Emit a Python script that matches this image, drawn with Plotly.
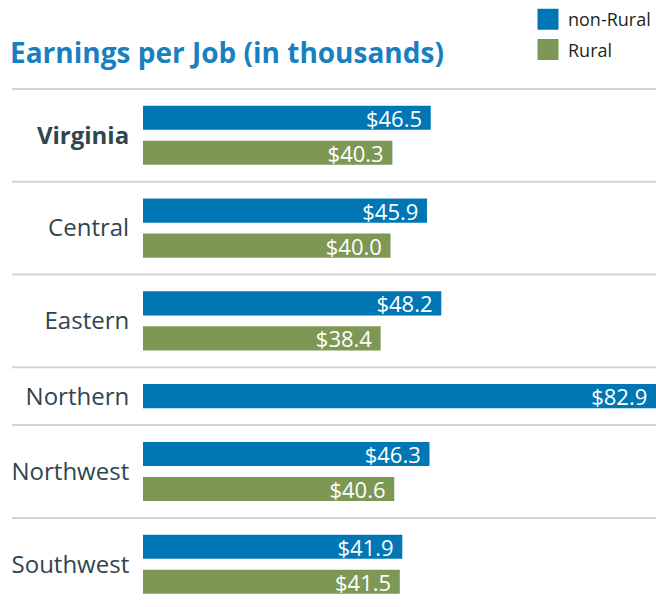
import plotly.graph_objects as go

regions = ["Virginia", "Central", "Eastern", "Northern", "Northwest", "Southwest"]
non_rural = [46.5, 45.9, 48.2, 82.9, 46.3, 41.9]
rural = [40.3, 40.0, 38.4, None, 40.6, 41.5]
series_names = ["non-Rural", "Rural"]
colors = ["#0077b4", "#7d9755"]

GAP = 0.65  # extra space between region groups (in bar rows)

# compute row positions for each bar from the data
pos_nr, pos_r, centers, seps = [], [], [], []
row = 0
for g, (a, b) in enumerate(zip(non_rural, rural)):
    base = row + g * GAP
    pos_nr.append(base)
    members = [base]
    row += 1
    if b is not None:
        pos_r.append(base + 1)
        members.append(base + 1)
        row += 1
    else:
        pos_r.append(None)
    centers.append(sum(members) / len(members))
    seps.append((members[0] - 0.5 - GAP / 2, members[-1] + 0.5 + GAP / 2))

fig = go.Figure()
label_font = dict(family="Open Sans", size=22, color="white")
fig.add_trace(go.Bar(
    x=non_rural, y=pos_nr, orientation="h", name=series_names[0],
    marker=dict(color=colors[0], line=dict(width=0)), width=0.69,
    texttemplate="$%{x:.1f} ", textposition="inside", insidetextanchor="end",
    constraintext="none",
    textfont=label_font, showlegend=False, hoverinfo="skip"))
rx = [v for v in rural if v is not None]
ry = [p for p in pos_r if p is not None]
fig.add_trace(go.Bar(
    x=rx, y=ry, orientation="h", name=series_names[1],
    marker=dict(color=colors[1], line=dict(width=0)), width=0.69,
    texttemplate="$%{x:.1f} ", textposition="inside", insidetextanchor="end",
    constraintext="none",
    textfont=label_font, showlegend=False, hoverinfo="skip"))

# legend entries (large square swatches)
for nm, c in zip(series_names, colors):
    fig.add_trace(go.Scatter(x=[None], y=[None], mode="markers", name=nm,
                             legendgroup=nm,
                             marker=dict(symbol="square", size=24, color=c,
                                         line=dict(width=8, color=c))))

# separator lines
for top, _ in seps:
    fig.add_shape(type="line", xref="paper", yref="y", x0=-131/513, x1=1,
                  y0=top, y1=top, line=dict(color="#d3d3d3", width=2))

ticktext = [("<b>%s</b>" % r) if i == 0 else r for i, r in enumerate(regions)]

fig.update_layout(
    width=656, height=607,
    margin=dict(l=143, r=0, t=88, b=7),
    paper_bgcolor="white", plot_bgcolor="white",
    barmode="overlay",
    showlegend=True,
    legend=dict(x=1, xanchor="right", y=1 - 1/607, yanchor="top", yref="container",
                font=dict(family="Open Sans", size=18, color="#231f20"),
                itemsizing="trace", bgcolor="rgba(0,0,0,0)", tracegroupgap=4),
    title=dict(text="<b>Earnings per Job (in thousands)</b>",
               font=dict(family="Open Sans", size=28, color="#1a7fc1"),
               x=10/656, xanchor="left", y=1 - 53/607, yanchor="middle",
               xref="container", yref="container"),
    xaxis=dict(range=[0, 82.9], visible=False, fixedrange=True),
    yaxis=dict(range=[13.25 + 0.5 + 0.02, -0.85], tickvals=centers, ticktext=ticktext,
               tickfont=dict(family="Open Sans", size=24, color="#2f4550"),
               ticks="outside", ticklen=8, tickcolor="rgba(0,0,0,0)",
               showgrid=False, zeroline=False, showline=False, fixedrange=True),
)

fig.write_html("out.html", config={"displayModeBar": False},
               post_script="document.body.style.margin='0';")
